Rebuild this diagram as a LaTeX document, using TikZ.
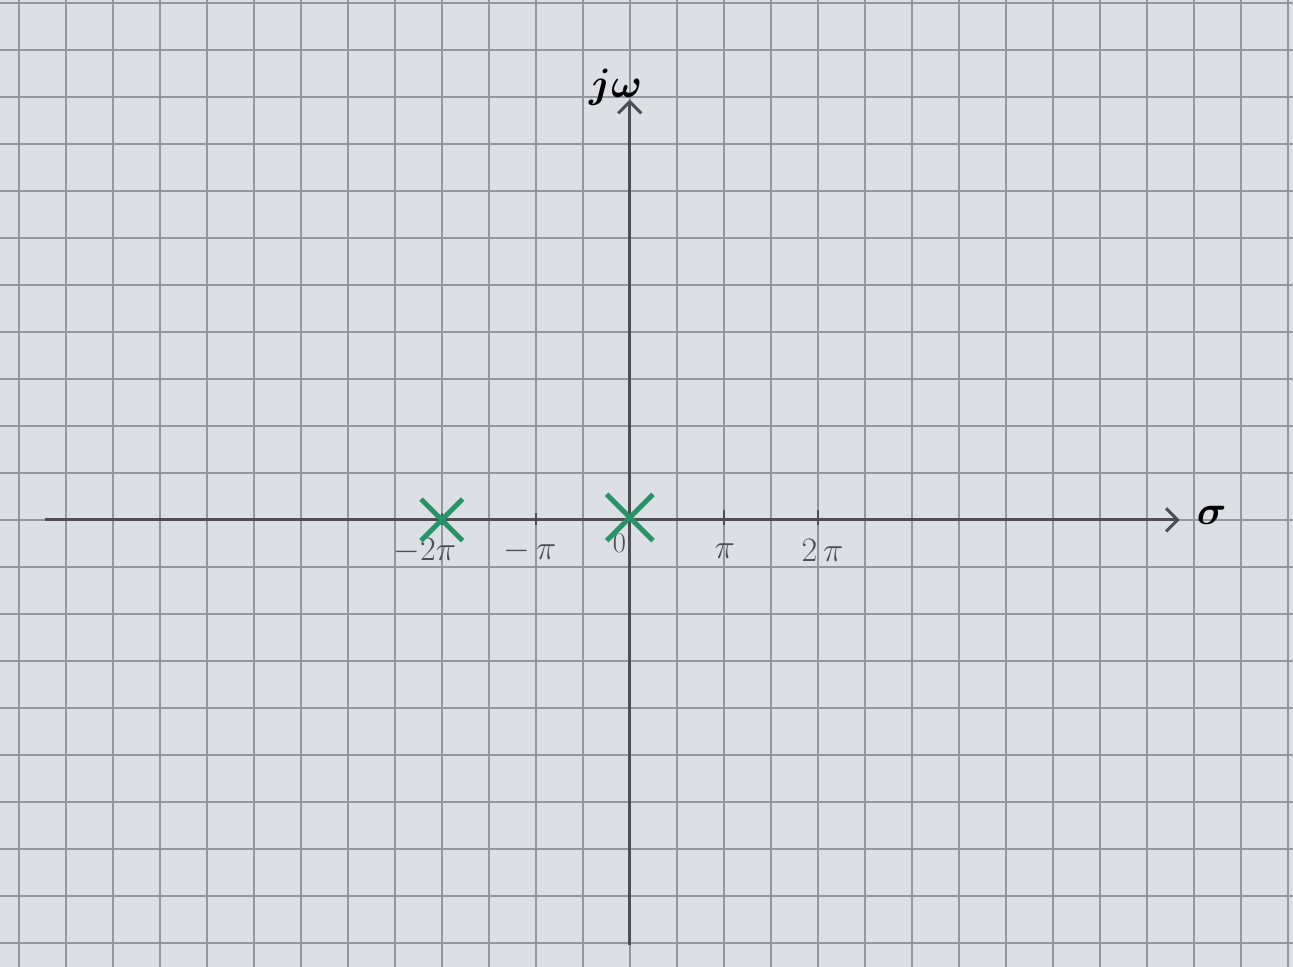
\documentclass[tikz,border=0pt]{standalone}
\usepackage{amssymb}
\usetikzlibrary{shapes.misc, arrows.meta}
\definecolor{paper}{RGB}{220,223,227}
\definecolor{gridgray}{RGB}{148,151,160}
\definecolor{pencil}{RGB}{78,78,82}
\definecolor{polegreen}{RGB}{38,148,104}

\begin{document}
\begin{tikzpicture}
	\fill[paper] (-13.40, -9.51) rectangle (14.11, 11.06);
	\useasboundingbox (-13.40, -9.51) rectangle (14.11, 11.06);
	\draw[gridgray, line width=0.95pt] (-13.40, -9.51) grid (14.11, 11.06);
	\coordinate (W) at (-12.45, 0);
	\coordinate (E) at (11.70, 0);
	\coordinate (S) at (0, -9.04);
	\coordinate (N) at (0, 8.94);
	\draw[pencil, line width=1.8pt, -{Straight Barb[length=7pt, width=14pt]}] (W) -- (E);
	\draw[pencil, line width=1.8pt, -{Straight Barb[length=7pt, width=14pt]}] (S) -- (N);
	\draw[pencil, line width=1.4pt] (-4, -0.12) -- (-4, 0.15) (-2, -0.12) -- (-2, 0.15) (2, -0.12) -- (2, 0.2) (4, -0.12) -- (4, 0.2);
	\node[text=pencil, font=\fontsize{20}{24}\selectfont](L1) at (-4.36, -0.66){$-2\pi$};
	\node[text=pencil, font=\fontsize{20}{24}\selectfont](L2) at (-2.12, -0.66){$-\,\pi$};
	\node[text=pencil, font=\fontsize{17}{20}\selectfont](L3) at (-0.22, -0.50){$0$};
	\node[text=pencil, font=\fontsize{20}{24}\selectfont](L4) at (2.02, -0.66){$\pi$};
	\node[text=pencil, font=\fontsize{20}{24}\selectfont](L5) at (4.10, -0.66){$2\,\pi$};
	\node[font=\fontsize{42}{48}\selectfont\boldmath](A1) at (-0.30, 9.20){$j\omega$};
	\node[font=\fontsize{38}{44}\selectfont\boldmath](A2) at (12.38, 0.10){$\sigma$};
	\node[shape=cross out, draw=polegreen, line width=3pt, minimum size=0.78cm, inner sep=0pt](P1) at (-4, 0){};
	\node[shape=cross out, draw=polegreen, line width=3pt, minimum size=0.88cm, inner sep=0pt](P2) at (0, 0.05){};
\end{tikzpicture}
\end{document}
